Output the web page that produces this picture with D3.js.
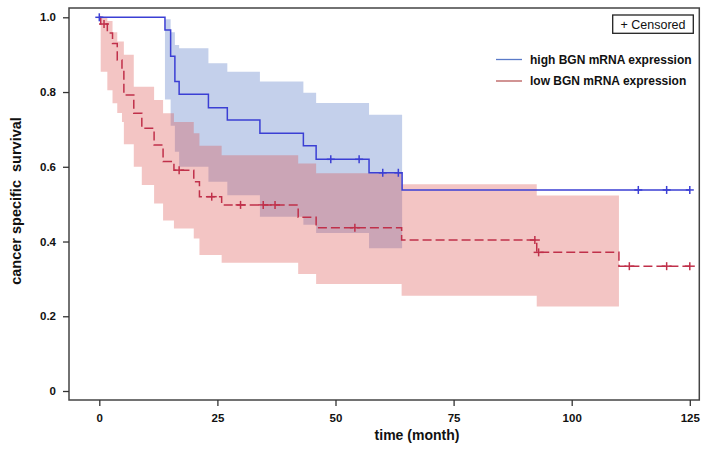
<!DOCTYPE html>
<html><head><meta charset="utf-8">
<script src="https://cdn.jsdelivr.net/npm/d3@7"></script>
<style>
html,body{margin:0;padding:0;background:#fff;}
svg text{font-family:"Liberation Sans",Arial,sans-serif;}
</style></head>
<body><svg id="c" width="708" height="450"></svg>
<script>
// ---------- DATA ----------
const xTicks = [0, 25, 50, 75, 100, 125];
const yTicks = [0, 0.2, 0.4, 0.6, 0.8, 1.0];
const yTickLabels = ["0", "0.2", "0.4", "0.6", "0.8", "1.0"];
const seriesNames = ["high BGN mRNA expression", "low BGN mRNA expression"];

// high BGN: step times and survival after each step
const highTimes = [0, 13.9, 15.1, 16.0, 16.9, 23.1, 27.1, 34.0, 43.2, 45.9, 57.1, 64.1, 125];
const highSurv  = [1.0, 0.966, 0.896, 0.828, 0.794, 0.758, 0.725, 0.690, 0.656, 0.620, 0.584, 0.538, 0.538];
const highBandTimes = [13.9, 15.1, 16.0, 16.9, 23.1, 27.1, 34.0, 43.2, 45.9, 57.1, 64.1];
const highLower = [0.78, 0.71, 0.64, 0.60, 0.56, 0.524, 0.466, 0.445, 0.423, 0.382, 0.382];
const highUpper = [0.995, 0.96, 0.926, 0.917, 0.877, 0.854, 0.828, 0.798, 0.771, 0.739, 0.739];
const highCensorT = [0, 49.0, 55.0, 60.0, 63.3, 114.1, 120.1, 125.0];

// low BGN
const lowTimes = [0, 0.3, 1.7, 2.8, 3.8, 4.8, 5.2, 7.3, 9.0, 11.6, 13.5, 15.8, 20.0, 21.2, 25.9, 42.1, 45.9, 64.0, 92.6, 110.0, 125];
const lowSurv  = [1.0, 0.982, 0.958, 0.930, 0.886, 0.859, 0.792, 0.743, 0.703, 0.658, 0.614, 0.591, 0.560, 0.520, 0.498, 0.465, 0.437, 0.404, 0.371, 0.334, 0.334];
const lowBandTimes = [0.3, 1.7, 2.8, 3.8, 4.8, 5.2, 7.3, 9.0, 11.6, 13.5, 15.8, 20.0, 21.2, 25.9, 42.1, 45.9, 64.0, 92.6, 110.0];
const lowLower = [0.854, 0.805, 0.77, 0.744, 0.72, 0.66, 0.60, 0.551, 0.502, 0.456, 0.435, 0.408, 0.364, 0.343, 0.313, 0.286, 0.255, 0.226, 0.226];
const lowUpper = [1.0, 0.99, 0.96, 0.935, 0.935, 0.90, 0.814, 0.814, 0.779, 0.743, 0.72, 0.69, 0.656, 0.631, 0.609, 0.583, 0.553, 0.523, 0.523];
const lowCensorT = [1.0, 16.9, 23.8, 29.9, 34.7, 37.2, 54.1, 92.2, 93.0, 112.2, 120.1, 125.0];

// ---------- DRAW ----------
const svg = d3.select("#c");
const x = d3.scaleLinear().domain([0, 125]).range([99.3, 689.8]);
const y = d3.scaleLinear().domain([0, 1]).range([391, 17.3]);
const frame = {l: 69, t: 8, r: 699.3, b: 400};

function stepAt(times, vals, t) {
  let v = vals[0];
  for (let i = 0; i < times.length; i++) if (times[i] <= t) v = vals[i];
  return v;
}
const bandPts = (times, lo, up) => times.map((t, i) => ({t, lo: lo[i], up: up[i]}));
const area = d3.area().curve(d3.curveStepAfter)
  .x(d => x(d.t)).y0(d => y(d.lo)).y1(d => y(d.up));
const line = d3.line().curve(d3.curveStepAfter).x(d => x(d.t)).y(d => y(d.s));

// bands
svg.append("path").datum(bandPts(highBandTimes, highLower, highUpper))
  .attr("d", area).attr("fill", "rgb(60,100,190)").attr("fill-opacity", 0.3);
svg.append("path").datum(bandPts(lowBandTimes, lowLower, lowUpper))
  .attr("d", area).attr("fill", "rgb(220,80,75)").attr("fill-opacity", 0.33);

// frame
svg.append("rect").attr("x", frame.l).attr("y", frame.t)
  .attr("width", frame.r - frame.l).attr("height", frame.b - frame.t)
  .attr("fill", "none").attr("stroke", "#444").attr("stroke-width", 1.5);

// curves
const blue = "#3b3fd4", red = "#c0304a";
svg.append("path").datum(highTimes.map((t, i) => ({t, s: highSurv[i]})))
  .attr("d", line).attr("fill", "none").attr("stroke", blue).attr("stroke-width", 1.5);
svg.append("path").datum(lowTimes.map((t, i) => ({t, s: lowSurv[i]})))
  .attr("d", line).attr("fill", "none").attr("stroke", red).attr("stroke-width", 1.5)
  .attr("stroke-dasharray", "9,4");

function censor(ts, times, surv, color, hw) {
  const g = svg.append("g").attr("stroke", color).attr("stroke-width", 1.5);
  ts.forEach(t => {
    const cx = x(t), cy = y(stepAt(times, surv, t));
    g.append("line").attr("x1", cx).attr("x2", cx).attr("y1", cy - 4).attr("y2", cy + 4);
    g.append("line").attr("x1", cx - hw).attr("x2", cx + hw).attr("y1", cy).attr("y2", cy);
  });
}
censor(highCensorT, highTimes, highSurv, blue, 4);
censor(lowCensorT, lowTimes, lowSurv, red, 5);

// axes
const yAxis = svg.append("g").attr("transform", `translate(${frame.l},0)`)
  .call(d3.axisLeft(y).tickValues(yTicks).tickSize(6).tickPadding(7)
    .tickFormat((d, i) => yTickLabels[i]));
const xAxis = svg.append("g").attr("transform", `translate(0,${frame.b})`)
  .call(d3.axisBottom(x).tickValues(xTicks).tickSize(6).tickPadding(8));
[yAxis, xAxis].forEach(a => {
  a.select(".domain").remove();
  a.selectAll(".tick line").attr("stroke", "#333").attr("stroke-width", 1.3);
  a.selectAll(".tick text").attr("fill", "#111").attr("font-size", 11.5).attr("font-weight", "bold")
    .attr("font-family", "'Liberation Sans',Arial,sans-serif");
});

// axis titles
svg.append("text").attr("x", 417).attr("y", 440).attr("text-anchor", "middle")
  .attr("font-size", 14).attr("font-weight", "bold").attr("fill", "#111").text("time (month)");
svg.append("text").attr("transform", "translate(21,201) rotate(-90)").attr("text-anchor", "middle")
  .attr("font-size", 14.5).attr("font-weight", "bold").attr("fill", "#111")
  .attr("xml:space", "preserve").text("cancer specific  survival");

// legend: censored box
svg.append("rect").attr("x", 612.7).attr("y", 15).attr("width", 80.6).attr("height", 18.3)
  .attr("fill", "#fff").attr("stroke", "#222").attr("stroke-width", 1.3);
svg.append("text").attr("x", 653).attr("y", 28.8).attr("text-anchor", "middle")
  .attr("font-size", 12.5).attr("fill", "#111").text("+ Censored");

// legend: series
[[blue, 59.5], [red, 81]].forEach(([c, ly], i) => {
  svg.append("line").attr("x1", 496).attr("x2", 522).attr("y1", ly).attr("y2", ly)
    .attr("stroke", i === 0 ? "#5a7ac8" : "#b85a5a").attr("stroke-width", 1.3);
  svg.append("text").attr("x", 530).attr("y", ly + 4.3).attr("font-size", 12)
    .attr("font-weight", "bold").attr("fill", "#111").text(seriesNames[i]);
});
</script></body></html>
